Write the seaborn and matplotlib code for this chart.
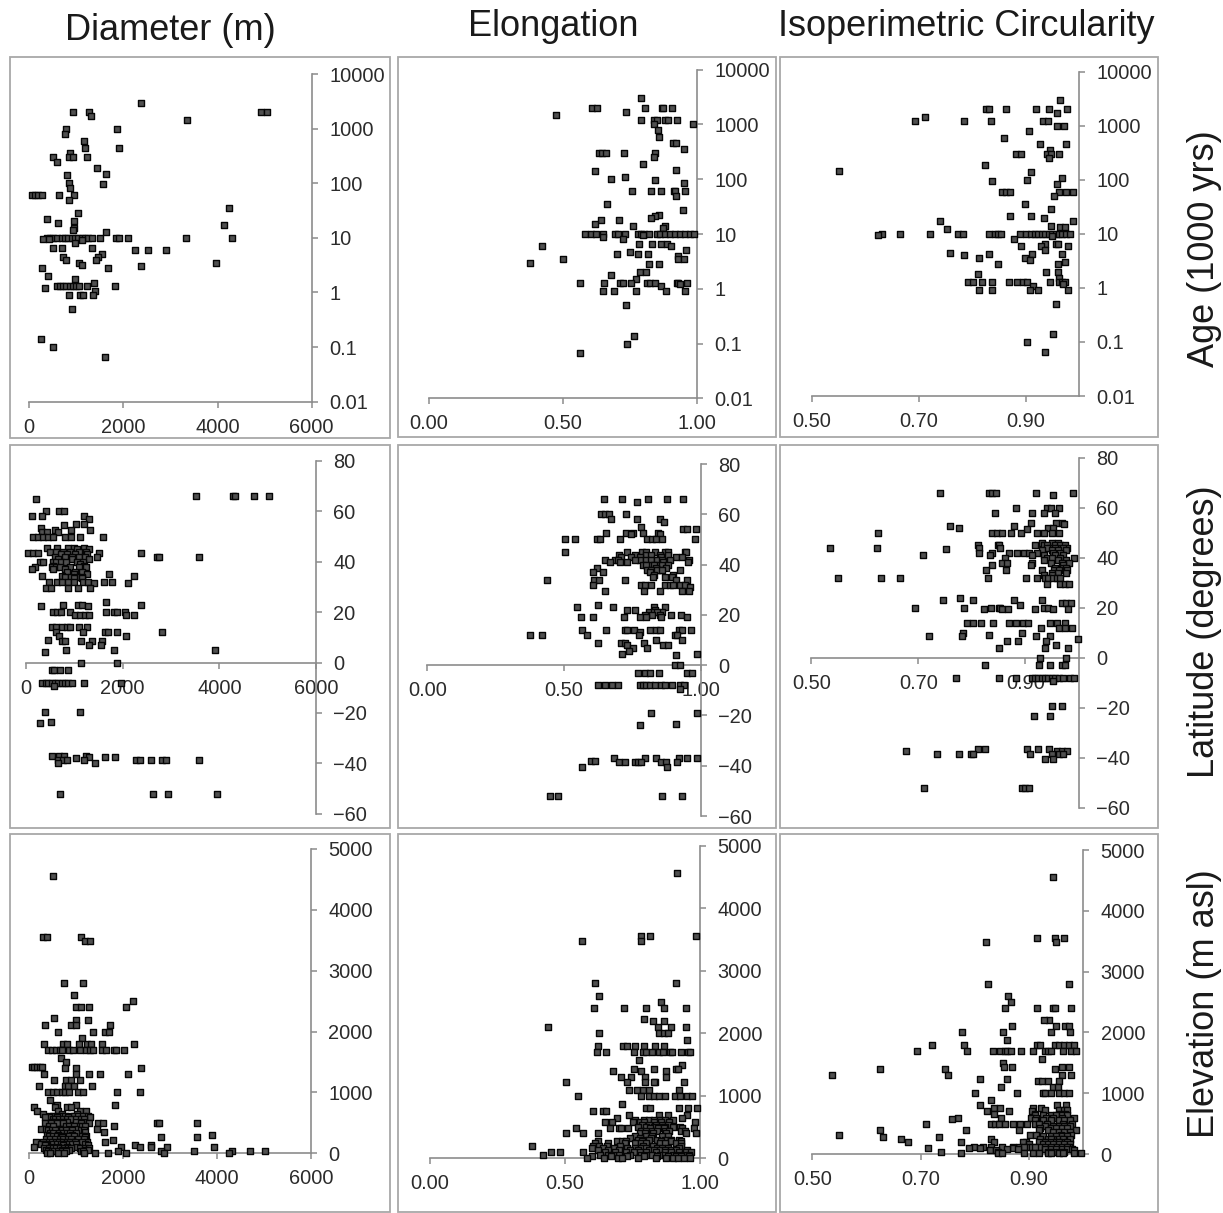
import pandas as pd
import seaborn as sns
import matplotlib.pyplot as plt
from matplotlib.patches import Rectangle

sns.set_style('white')
plt.rcParams['font.family'] = ['Liberation Sans', 'DejaVu Sans']

# each row: y value, then the x values found at that y
age_diam = [
    (3000, [2380]), (2000, [930, 1270, 4915, 5055]), (1700, [1320]), (1450, [3350]),
    (1000, [780, 1855]), (800, [760]), (600, [1160]), (450, [1180, 1900]), (360, [870]),
    (300, [510, 840, 930, 1220]), (240, [590]), (190, [1430]), (150, [1630]), (140, [800]),
    (100, [835]), (95, [1570]), (82, [855]), (60, [50, 120, 190, 275, 640, 960]), (50, [850]),
    (35, [4240]), (28, [1035]), (22, [380]), (20, [960]), (19, [620]), (17.5, [4135]),
    (15, [960]), (14, [935]), (13, [1640]),
    (10, [370, 440, 510, 580, 690, 760, 830, 900, 970, 1040, 1110, 1180, 1250, 1340, 1510, 1840, 1905, 2090, 3335, 4305]),
    (9.5, [290, 425]), (9, [1110]), (8, [980]), (6.5, [495, 695, 1340]), (6, [2240, 2530, 2900]),
    (5, [1535]), (4.5, [1465, 710]), (4, [770, 1415]), (3.5, [1055, 3960]), (3.2, [1125]),
    (3, [2380]), (2.8, [275, 1680]), (2, [405]), (1.75, [980]), (1.5, [1375]),
    (1.3, [580, 650, 720, 790, 860, 930, 1000, 1060, 1230, 1825]), (1.2, [335]), (1.05, [1395]),
    (0.9, [850, 1070, 1145, 1350]), (0.5, [905]), (0.14, [240]), (0.1, [495]), (0.066, [1605]),
]
age_elong = [
    (3000, [.793]), (2000, [.608, .629, .806, .869, .875, .907]), (1700, [.737]), (1500, [.476]),
    (1200, [.793, .84, .85, .882, .892, .925]), (1000, [.84, .985]), (800, [.853]), (600, [.857]),
    (450, [.909, .922]), (360, [.95]), (300, [.633, .645, .662, .728, .844]), (250, [.838]),
    (190, [.797]), (150, [.923]), (140, [.618]), (110, [.731]), (100, [.681]), (95, [.843]),
    (85, [.95]), (60, [.756, .828, .865, .913, .917, .954]), (50, [.923]), (35, [.665]),
    (28, [.946]), (22, [.858]), (21, [.843]), (20, [.827]), (18, [.644, .709]), (15, [.62]),
    (14, [.762, .879]), (13, [.875]),
    (10, [.583, .604, .623, .651, .695, .707, .732, .78, .792, .804, .822, .85, .863, .882, .90, .919, .938, .954, .975, .988]),
    (9.5, [.80]), (9, [.649]), (8, [.724]), (6.5, [.785, .834, .864, .888]), (6.1, [.421]), (6, [.904]),
    (5, [.96]), (4.6, [.75]), (4.3, [.702, .781, .816]), (4, [.931]), (3.5, [.502, .928, .95]),
    (3, [.376]), (2.8, [.822, .857]), (2, [.787, .811]), (1.8, [.681]), (1.5, [.771]),
    (1.3, [.564, .653, .714, .726, .755, .812, .826, .844, .925, .931, .964]), (1.2, [.935]), (1.1, [.865]),
    (.9, [.649, .69, .773, .884, .954]), (.5, [.737]), (.14, [.766]), (.1, [.74]), (.066, [.564]),
]
age_circ = [
    (3000, [.964]), (2000, [.825, .831, .864, .919, .943, .977]), (1700, [.958]), (1450, [.712]),
    (1200, [.693, .785, .835, .933, .942]), (1000, [.958, .971]), (800, [.906]), (600, [.859]),
    (450, [.927, .975]), (360, [.946]), (300, [.882, .891, .94, .948, .963]), (250, [.944]),
    (190, [.824]), (148, [.55]), (140, [.911]), (110, [.968]), (100, [.903]), (95, [.838]), (85, [.959]),
    (60, [.855, .863, .87, .963, .975, .989]), (50, [.953]), (36, [.898]), (29, [.947]),
    (21.5, [.911]), (21, [.871]), (20, [.934]), (17.5, [.739, .988]), (14, [.948]), (13.5, [.964, .973]),
    (12.5, [.752]),
    (10, [.631, .665, .721, .774, .783, .831, .842, .849, .853, .89, .901, .91, .918, .924, .931, .937, .943, .949, .956, .962, .968, .976, .983]),
    (9.5, [.624]), (9, [.949]), (8, [.878]), (6.5, [.936, .957, .961]), (6, [.891, .928, .98]), (5, [.937]),
    (4.5, [.759]), (4.2, [.832, .912, .968]), (4, [.784]), (3.5, [.812, .898]), (3.3, [.909]), (3, [.973]),
    (2.8, [.849, .961]), (2, [.939, .961]), (1.8, [.81]), (1.5, [.962]),
    (1.3, [.792, .802, .818, .838, .869, .883, .896, .903, .946, .962, .968, .974]), (1.2, [.97]), (1.1, [.914]),
    (.9, [.812, .838, .908, .923, .979]), (.5, [.956]), (.14, [.951]), (.1, [.903]), (.066, [.936]),
]
lat_diam = [
    (66, [3525, 4290, 4325, 4725, 5025]), (65, [207]), (60, [414, 690, 787]), (58, [131, 324, 1200]),
    (57, [1311]), (55, [1035, 1200]), (54.5, [787]), (53.5, [310]), (52.5, [1325, 600, 925]),
    (52, [324, 428, 655]), (50, [145, 255, 359, 462, 552, 807, 925, 1111, 1594]),
    (45.5, [435, 642, 876, 994, 1194]), (45, [1049, 1311]), (44, [500, 620, 760, 900, 1100, 1250]),
    (43.5, [48, 152, 255, 1518, 2380]), (43, [725, 856, 1014, 1270]), (42, [2705, 2760, 3581, 1470, 600, 800, 950, 1100, 1220]),
    (41, [1304, 945, 669]), (40, [290, 359, 552, 620, 720, 830, 1050, 1180]), (39, [1118]), (38.5, [566, 1207]),
    (38, [1097, 186, 545, 620, 700, 900, 1250]), (37, [117, 807, 552]), (36, [850, 1020, 1150]),
    (35, [1725, 1000, 1263]), (34.5, [338, 738, 2243]), (34, [800, 930, 1050, 1150]), (33.5, [1000, 1152]),
    (32, [483, 635, 738, 876, 994, 1187, 1290, 1615, 1787]), (31.5, [1415, 2118]),
    (29.5, [421, 518, 876, 1083, 1325]), (24, [1656]), (23, [759, 1070, 1152, 2374]), (22.5, [310, 1277]),
    (20, [566, 635, 718, 904, 1656, 1822, 1877, 2049]), (19, [1014, 1118, 1221, 1311, 2070, 2229]),
    (14, [545, 614, 752, 842, 911, 1104, 1270]), (12, [614, 1187, 1635, 1704, 1891, 2822]),
    (10.5, [690, 2063]), (9, [449]), (8.5, [738, 807, 1132, 1359, 1566]), (7, [1311, 1552]),
    (5, [821, 1822, 3912]), (4, [400]), (0, [1132, 1877]), (-3, [531, 586, 704, 876]),
    (-8, [338, 407, 462, 531, 600, 669, 738, 807, 876, 959, 1207, 1967]), (-9.5, [586]),
    (-19.5, [400, 1111]), (-23.5, [518]), (-24, [290]), (-37, [545, 690, 794, 1235]),
    (-37.5, [1304, 1635, 1842]), (-38, [1028]),
    (-38.5, [655, 759, 842, 1200, 2270, 2360, 2594, 2822, 2898, 3581]), (-40, [655, 1435]),
    (-52, [711, 2629, 2946, 3947]),
]
lat_elong = [
    (66, [.645, .712, .807, .876, .937]), (65, [.767]), (60, [.635, .649, .663, .728]),
    (58, [.673, .767, .85]), (57, [.866]), (55, [.783]), (54, [.935, .951, .983]),
    (52.5, [.652, .726, .752, .789, .844]), (52, [.744, .85]),
    (50, [.504, .54, .621, .632, .704, .805, .822, .838, .859, .979]),
    (45, [.504, .732, .787, .801, .832, .868, .88, .941, .948]), (44, [.7, .76, .8, .82, .85, .88]),
    (43, [.707, .746, .777, .856, .911, .932]), (42, [.651, .685, .698, .777, .838, .887, .956, .76, .8, .82, .84, .86]),
    (41, [.667, .704, .73, .862, .954]), (40, [.789, .82, .844, .8, .83, .86, .88]), (38.5, [.622, .838, .874]),
    (38, [.923, .805, .85, .82, .84, .86]), (37, [.605, .641, .816]), (36, [.83, .9]),
    (35, [.826, .868, .895]), (34, [.439, .61, .627, .722, .909, .949]),
    (32, [.607, .78, .795, .82, .868, .887, .899, .923, .941]), (31, [.962]),
    (29.5, [.651, .793, .85, .932, .957]), (24, [.626]), (23, [.548, .678, .828, .868]), (22, [.73, .761, .834]),
    (21, [.81, .83, .86, .84]), (20, [.795, .822, .85, .893, .928]), (19, [.561, .607, .72, .778, .801, .856, .949]),
    (14, [.567, .655, .722, .729, .756, .815, .838, .85, .921, .932, .963]), (13, [.779]),
    (12, [.377, .42, .584, .773, .905, .915]), (10, [.835, .933]), (9, [.71, .623, .724, .791]),
    (8, [.73, .863, .879]), (7, [.752, .805]), (5.5, [.739]), (4.5, [.712, .987]), (4, [.909]),
    (0, [.905, .923]), (-3, [.771, .795, .813, .848, .95, .968]),
    (-8, [.624, .649, .676, .698, .777, .789, .801, .813, .832, .854, .868, .896, .923, .939]), (-9.5, [.923]),
    (-19, [.817, .985]), (-23.5, [.911]), (-24, [.779]), (-37, [.682, .798, .838, .921, .951, .987]),
    (-38, [.598, .612]), (-38.5, [.7, .724, .761, .771, .78, .856, .874, .912]), (-40.5, [.565, .876]),
    (-52, [.449, .479, .857, .93]),
]
lat_circ = [
    (66, [.74, .831, .838, .845, .919, .988]), (65, [.952]), (60, [.883, .94, .947, .963]),
    (58, [.843, .913, .934, .955]), (54, [.91, .968, .957]), (53.5, [.972]), (52.5, [.759, .878]),
    (52, [.775, .943, .951]), (51.5, [.902]), (50, [.625, .837, .846, .857, .873, .891, .921, .934, .949, .962]),
    (46, [.93, .95, .96]), (45, [.812, .849, .851, .918, .934, .94, .955, .965, .974]),
    (44, [.535, .623, .813, .853, .946, .958, .977, .94, .955, .97]), (43.5, [.752]), (43, [.93, .95, .96, .975]),
    (42, [.813, .838, .87, .884, .898, .907, .922, .952, .965]), (41, [.709, .833, .912, .935, .955, .97]),
    (40, [.862, .94, .99, .965, .949]), (39, [.935, .96, .975]), (38, [.856, .866, .912, .947, .968, .982]),
    (37, [.838, .91, .971]), (36, [.955, .97, .975]), (35, [.826, .864, .93, .953, .962, .977]),
    (34, [.95, .96, .975]), (33, [.935, .95]),
    (32, [.55, .63, .665, .83, .901, .921, .937, .943, .952, .958, .965]), (29.5, [.94, .964, .974, .982]),
    (24, [.778]), (23, [.746, .93, .802, .879]), (22, [.968, .976, .985]), (21, [.89]),
    (20, [.693, .785, .835, .85, .853, .934, .943]), (19.5, [.822, .857, .868, .917, .952, .979]),
    (14, [.79, .802, .817, .839, .87, .883, .896, .904, .946, .958, .974]), (12, [.929, .962, .974, .987]),
    (10, [.784, .893]), (9, [.831]), (8.5, [.719, .781, .92, .945]), (7.5, [.999]), (6.5, [.866, .886, .939]),
    (5, [.957]), (4, [.85, .937, .98]), (0, [.928, .975]), (-3, [.825, .926, .946, .968, .974]),
    (-8, [.77, .851, .883, .912, .918, .924, .93, .937, .943, .949, .955, .962, .97, .984, .99]), (-9.5, [.952]),
    (-19.5, [.95, .968]), (-23.5, [.945, .916]), (-36.5, [.825, .903, .812, .923, .944]),
    (-37.5, [.676, .958, .968, .977]), (-38.5, [.734, .776, .798, .802, .909, .949, .962, .971]),
    (-40.5, [.937, .952]), (-52, [.711, .894, .899, .907]),
]
elev_diam = [
    (4560, [510]), (3550, [298, 390, 1106]), (3490, [1198, 1297]), (2800, [751, 1148]), (2600, [964]),
    (2500, [2212]), (2400, [992, 1099, 1283, 2063]), (2220, [539]), (2190, [1000, 1255]),
    (2100, [340, 886, 992, 1723]), (2000, [624, 1361, 1624, 1709]), (1900, [1127]),
    (1800, [312, 730, 801, 1063, 1241, 1319, 1546, 2233]),
    (1700, [411, 482, 574, 659, 695, 858, 943, 1092, 1212, 1297, 1354, 1546, 1638, 1815, 1850, 2028]),
    (1560, [674]), (1500, [787]), (1420, [57, 106, 163, 234, 284]), (1400, [766, 1000, 2375]),
    (1300, [312, 1000, 1283, 1503, 2099]), (1200, [532, 780, 893, 1085]), (1100, [206, 766, 837, 957, 1333]),
    (1000, [411, 518, 603, 695, 766, 858, 1042, 1156, 1865, 2354]), (870, [447]), (800, [1836, 589, 1000]),
    (760, [106, 553, 801, 886]), (700, [177, 624, 1085, 1212]), (650, [291, 695, 1014]),
    (620, [450, 520, 600, 680, 760, 880, 950, 1050, 1150, 1250]), (600, [432, 603, 837, 1297, 340]),
    (560, [500, 560, 640, 720, 800, 900, 1000, 1100, 1180]), (520, [480, 560, 660, 740, 810, 1000, 1150]),
    (500, [340, 461, 589, 730, 1099, 1276, 1461, 1581, 2716, 2765, 3566]),
    (450, [1815, 1049, 430, 520, 780, 860, 950, 1120, 1200]), (400, [248, 362, 659, 858, 1000, 1439]),
    (380, [400, 480, 550, 700, 780, 920, 1100, 1180]), (350, [1191, 1602]), (340, [450, 520, 640, 720, 800, 880, 1000]),
    (300, [376, 624, 3885, 907]), (280, [420, 500, 600, 680, 760, 850, 950, 1130, 1220]),
    (260, [2808, 3566, 695, 1191]), (230, [360, 440, 560, 650, 730, 820, 900, 1050, 1180]), (220, [1780]),
    (190, [149, 411, 659, 943, 1227, 1617]), (180, [300, 480, 570, 640, 720, 800, 880, 980, 1120]),
    (150, [250, 350, 520, 600, 680, 760, 840, 920, 1010, 1200]), (130, [2255, 2588, 340, 730, 1262]),
    (100, [113, 482, 624, 801, 1014, 1950, 2361, 3928, 2942, 2595]),
    (80, [320, 420, 500, 580, 660, 740, 820, 900, 1080, 1200, 1280]), (50, [362, 695, 858, 1191, 1262]),
    (40, [1886, 2801, 3510, 5013, 4701, 4311]), (30, [400, 480, 540, 620, 700, 780, 1100, 1150]),
    (10, [376, 447, 624, 744, 1170, 1404, 1680, 2063, 2872, 4261]),
]
elev_elong = [
    (4560, [.912]), (3560, [.782, .815, .983]), (3480, [.562, .781]), (2800, [.61, .909]), (2600, [.625]),
    (2500, [.853]), (2400, [.605, .719, .799, .864, .946]), (2230, [.79]), (2190, [.824, .867]),
    (2100, [.435, .842, .89, .947]), (2000, [.625, .846, .866, .88]), (1900, [.949]),
    (1800, [.621, .715, .73, .76, .79, .834, .866]),
    (1700, [.618, .65, .753, .788, .8, .821, .847, .862, .887, .895, .927, .954, .962]), (1580, [.772]),
    (1500, [.933]), (1430, [.756, .827, .911, .917]), (1400, [.678, .782, .872]), (1300, [.707, .744, .797, .874]),
    (1220, [.503, .727, .834, .94, .795, .829]), (1100, [.737, .765, .788, .809, .921]),
    (1000, [.547, .781, .809, .829, .846, .868, .905, .924, .949, .969]), (870, [.709]),
    (800, [.921, .956, .988, .8, .815]), (760, [.604, .64, .651]), (700, [.737, .847, .88, .952]), (650, [.69, .933]),
    (620, [.76, .79, .81, .83, .85, .87, .9]), (580, [.649, .674, .75, .778, .79, .829, .856, .884, .98]),
    (540, [.785, .81, .835, .86, .88]), (500, [.77, .80, .83, .85, .87, .9, .925]),
    (480, [.541, .666, .698, .705, .731, .815, .843, .864, .933, .978]), (440, [.78, .8, .82, .84, .87, .885, .93, .945]),
    (400, [.503, .566, .621, .778, .794, .825, .872, .948, .983]), (360, [.76, .8, .82, .86, .88]),
    (320, [.74, .777, .819]), (300, [.77, .79, .81, .84, .87, .89, .92]),
    (280, [.623, .693, .71, .726, .784, .856, .893, .927]), (240, [.61, .66, .72, .76, .78, .8, .85, .87, .91, .93]),
    (200, [.376, .603, .625, .655, .702, .788, .825, .93]), (170, [.6, .64, .68, .73, .76, .78, .8, .84, .86, .88, .92]),
    (130, [.62, .66, .7, .74, .77, .81, .83, .85, .87, .89, .91, .95]),
    (100, [.448, .48, .566, .646, .683, .726, .753, .776, .8, .837, .868, .893, .92, .947, .967]),
    (60, [.63, .66, .7, .74, .78, .8, .82, .85, .87, .9, .92, .94, .96]), (50, [.419, .677]),
    (30, [.6, .67, .73, .79, .84, .88, .91, .93, .96]),
    (10, [.582, .644, .695, .71, .769, .837, .874, .899, .917, .94, .963]),
]
elev_circ = [
    (4560, [.944]), (3550, [.914, .947, .965]), (3480, [.82, .95]), (2800, [.825, .974]), (2600, [.861]),
    (2500, [.866]), (2400, [.856, .914, .944, .947, .977]), (2200, [.936, .927]), (2100, [.869, .95, .966, .974]),
    (2000, [.776, .852, .94, .975]), (1880, [.859]), (1800, [.72, .78, .915, .92, .947, .956, .965, .973, .982]),
    (1700, [.693, .785, .834, .847, .855, .86, .866, .885, .908, .93, .935, .94, .962, .978, .987]), (1560, [.923]),
    (1500, [.851]), (1430, [.853, .869, .96, .974]), (1400, [.624, .744, .948]), (1300, [.537, .75, .961, .977]),
    (1230, [.86, .81]), (1200, [.916, .924, .934, .955]), (1100, [.848, .944, .953]),
    (1000, [.8, .877, .925, .93, .941, .956, .965, .974]), (880, [.829]), (800, [.81, .951, .968]),
    (760, [.836, .847, .908, .922]), (720, [.93, .955, .965, .97]), (700, [.823, .863, .906]),
    (650, [.836, .91, .956, .967]), (640, [.91, .925, .94, .95, .96, .97]),
    (600, [.769, .849, .904, .913, .931, .944, .961, .983]), (570, [.758]), (560, [.91, .925, .94, .955, .965, .975]),
    (500, [.709, .83, .838, .845, .855, .87, .884, .896, .91, .919, .933, .962, .98]), (460, [.93, .945, .955, .965, .975]),
    (420, [.92, .94, .95, .96, .97]), (400, [.625, .783, .881, .919, .934, .986]), (360, [.945, .955, .965, .975]),
    (320, [.55, .901, .913, .959, .977]), (300, [.925, .94, .95, .96, .97]), (280, [.631, .733]),
    (250, [.92, .935, .945, .955, .965, .975]), (240, [.664, .829, .94, .962]), (200, [.895, .93, .94, .95, .96, .97]),
    (190, [.676, .774, .836, .888, .919, .956]), (160, [.9, .925, .935, .945, .955, .965, .975]),
    (120, [.798, .815, .882, .897, .95, .974, .905, .92, .93, .94, .96, .97]), (110, [.83, .85, .87, .89, .91]),
    (100, [.713, .79, .809, .87]), (80, [.86, .88, .93, .94, .95, .96, .97, .98]), (60, [.827, .983, .839]),
    (40, [.738, .842, .935, .945, .955, .965]),
    (10, [.775, .842, .85, .89, .908, .919, .934, .94, .956, .962, .982, .996]),
]

col_titles = ['Diameter (m)', 'Elongation', 'Isoperimetric Circularity']
row_titles = ['Age (1000 yrs)', 'Latitude (degrees)', 'Elevation (m asl)']
age_ticks = [0.01, 0.1, 1, 10, 100, 1000, 10000]
age_labels = ['0.01', '0.1', '1', '10', '100', '1000', '10000']
lat_ticks = [-60, -40, -20, 0, 20, 40, 60, 80]
elev_ticks = [0, 1000, 2000, 3000, 4000, 5000]
diam_ticks = [0, 2000, 4000, 6000]
elong_ticks = [0, 0.5, 1.0]
circ_ticks = [0.5, 0.7, 0.9]

W, H = 1223, 1213
GRAY = '#8c8c8c'
TXT = '#2b2b2b'


def to_frame(rows):
    xs, ys = [], []
    for y, vals in rows:
        for v in vals:
            xs.append(v)
            ys.append(y)
    return pd.DataFrame({'x': xs, 'y': ys})


# data, frame box, axes box (pixels), x setup
panels = [
    (age_diam, (10, 57, 390, 438), (29.3, 74, 311.7, 401.7), 'd', 'a'),
    (age_elong, (398, 57, 776, 437), (428.7, 69.7, 697, 398.3), 'e', 'a'),
    (age_circ, (780, 57, 1158, 437), (812, 71.7, 1079, 396), 'c', 'a'),
    (lat_diam, (10, 445, 390, 828), (26, 461, 316, 813.7), 'd', 'l'),
    (lat_elong, (398, 445, 776, 828), (427.3, 464, 700.7, 816), 'e', 'l'),
    (lat_circ, (780, 445, 1158, 828), (811.3, 457.7, 1079, 807.7), 'c', 'l'),
    (elev_diam, (10, 834, 390, 1212), (29, 849, 311, 1153.3), 'd', 'h'),
    (elev_elong, (398, 834, 776, 1212), (430, 845.7, 700.3, 1158.3), 'e', 'h'),
    (elev_circ, (780, 834, 1158, 1212), (812.3, 850, 1083.3, 1154), 'c', 'h'),
]

fig = plt.figure(figsize=(W / 100, H / 100), dpi=100)

for rows, box, pos, xkind, ykind in panels:
    fig.add_artist(Rectangle((box[0] / W, 1 - box[3] / H), (box[2] - box[0]) / W, (box[3] - box[1]) / H,
                             transform=fig.transFigure, fill=False, ec='#a8a8a8', lw=1.3))
    ax = fig.add_axes([pos[0] / W, 1 - pos[3] / H, (pos[2] - pos[0]) / W, (pos[3] - pos[1]) / H])
    ax.patch.set_alpha(0)
    df = to_frame(rows)
    sns.scatterplot(data=df, x='x', y='y', ax=ax, marker='s', s=14, color='#505050',
                    edgecolor='#050505', linewidth=1.0, clip_on=False, zorder=3)
    ax.set_xlabel('')
    ax.set_ylabel('')

    if xkind == 'd':
        ax.set_xlim(0, 6000)
        ax.set_xticks(diam_ticks)
        ax.set_xticklabels([str(t) for t in diam_ticks])
    elif xkind == 'e':
        ax.set_xlim(0, 1)
        ax.set_xticks(elong_ticks)
        ax.set_xticklabels(['%.2f' % t for t in elong_ticks])
    else:
        ax.set_xlim(0.5, 1)
        ax.set_xticks(circ_ticks)
        ax.set_xticklabels(['%.2f' % t for t in circ_ticks])

    if ykind == 'a':
        ax.set_yscale('log')
        ax.set_ylim(0.01, 10000)
        ax.set_yticks(age_ticks)
        ax.set_yticklabels(age_labels)
        ax.minorticks_off()
    elif ykind == 'l':
        ax.set_ylim(-60, 80)
        ax.set_yticks(lat_ticks)
        ax.spines['bottom'].set_position(('data', 0))
    else:
        ax.set_ylim(0, 5000)
        ax.set_yticks(elev_ticks)

    ax.yaxis.tick_right()
    ax.spines['top'].set_visible(False)
    ax.spines['left'].set_visible(False)
    for s in ['bottom', 'right']:
        ax.spines[s].set_color(GRAY)
        ax.spines[s].set_linewidth(1.2)
    ax.tick_params(axis='both', which='major', direction='out', length=4.5, width=1.1, color=GRAY,
                   labelsize=14.4, labelcolor=TXT, bottom=True, right=True, left=False)
    ax.tick_params(axis='x', pad=7)
    ax.tick_params(axis='y', pad=8)

for name, cx, cy in zip(col_titles, [170, 553, 966], [31, 27, 27]):
    fig.text(cx / W, 1 - cy / H, name, ha='center', va='center', fontsize=26, color='#1a1a1a')
for name, cy in zip(row_titles, [249, 632, 1004]):
    fig.text(1205 / W, 1 - cy / H, name, ha='center', va='center', rotation=90, fontsize=26, color='#1a1a1a')

fig.savefig('out.png', dpi=100)
